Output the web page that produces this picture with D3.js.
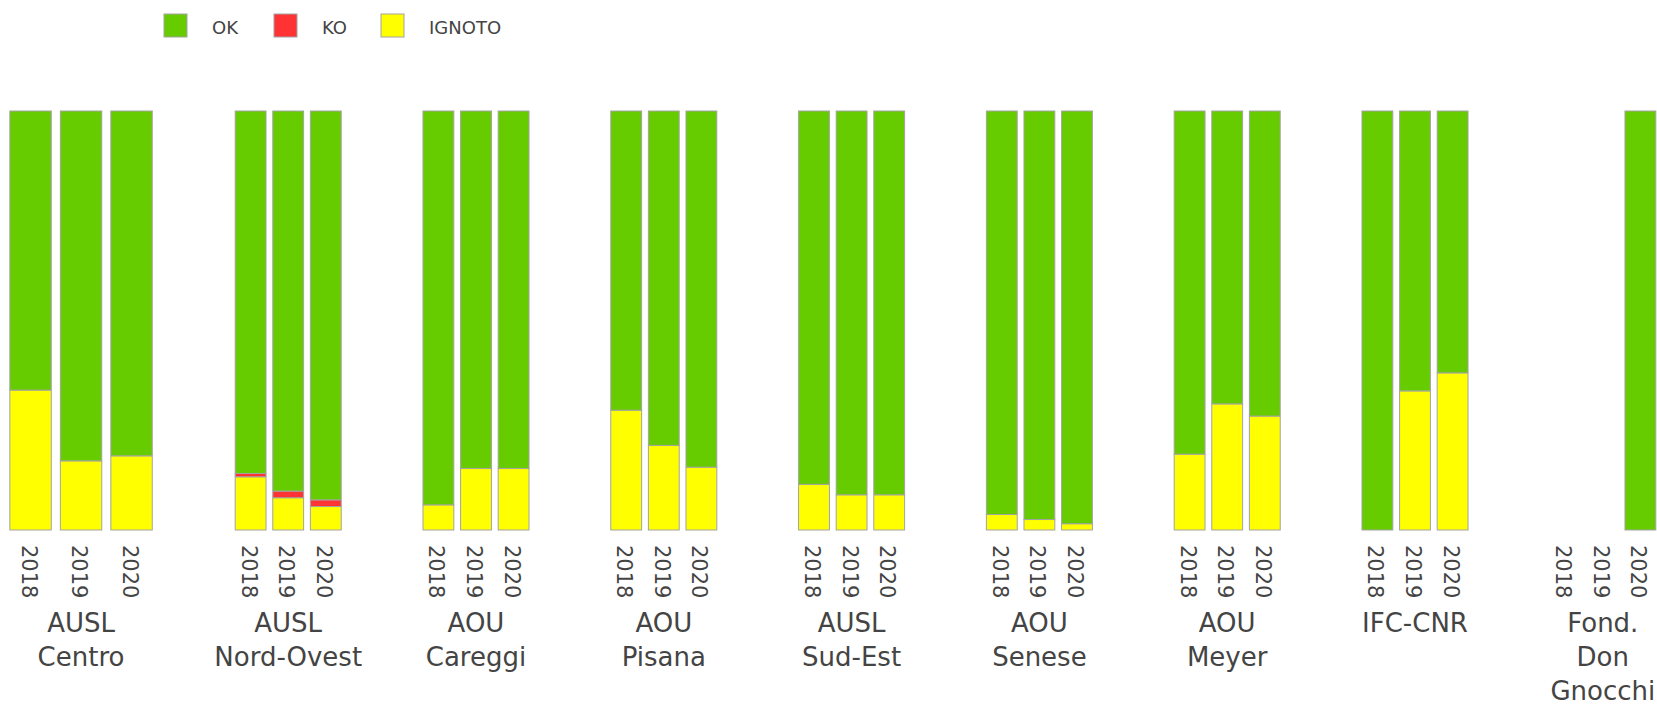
<!DOCTYPE html>
<html>
<head>
<meta charset="utf-8">
<script src="https://cdn.jsdelivr.net/npm/d3@7"></script>
<style>
  html, body { margin: 0; padding: 0; background: #fff; }
  svg { display: block; font-family: "DejaVu Sans", Verdana, sans-serif; }
</style>
</head>
<body>
<svg id="chart" width="1657" height="705"></svg>
<script>
// ---------- DATA ----------
const groups = [
  ["AUSL", "Centro"],
  ["AUSL", "Nord-Ovest"],
  ["AOU", "Careggi"],
  ["AOU", "Pisana"],
  ["AUSL", "Sud-Est"],
  ["AOU", "Senese"],
  ["AOU", "Meyer"],
  ["IFC-CNR"],
  ["Fond.", "Don", "Gnocchi"]
];
const years = ["2018", "2019", "2020"];
const seriesNames = ["OK", "KO", "IGNOTO"];
// percentages per group, per year (null = no data)
const koValues = [
  [0, 0, 0],
  [0.8, 1.6, 1.6],
  [0, 0, 0],
  [0, 0, 0],
  [0, 0, 0],
  [0, 0, 0],
  [0, 0, 0],
  [0, 0, 0],
  [null, null, 0]
];
const ignotoValues = [
  [33.4, 16.5, 17.7],
  [12.7, 7.7, 5.6],
  [6.0, 14.7, 14.7],
  [28.6, 20.2, 15.0],
  [10.9, 8.4, 8.4],
  [3.7, 2.5, 1.5],
  [18.1, 30.1, 27.2],
  [0, 33.2, 37.5],
  [null, null, 0]
];
const okValues = [
  [66.6, 83.5, 82.3],
  [86.5, 90.7, 92.8],
  [94.0, 85.3, 85.3],
  [71.4, 79.8, 85.0],
  [89.1, 91.6, 91.6],
  [96.3, 97.5, 98.5],
  [81.9, 69.9, 72.8],
  [100, 66.8, 62.5],
  [null, null, 100]
];

// ---------- LAYOUT / STYLE ----------
const colors = { OK: "#66cc00", KO: "#ff3333", IGNOTO: "#ffff00" };
const strokeColor = "#a3a3a3";
const textColor = "#444";
const plotTop = 111, plotBottom = 530;
const panelStart = 5.3, panelGap = 75;
const panelWidths = [151.5, 112.8, 112.8, 112.8, 112.8, 112.8, 112.8, 112.8, 112.8];

const svg = d3.select("#chart");
const y = d3.scaleLinear().domain([0, 100]).range([plotBottom, plotTop]);

// panel ranges
let cursor = panelStart;
const panels = panelWidths.map(w => { const r = [cursor, cursor + w]; cursor += w + panelGap; return r; });

groups.forEach((lines, gi) => {
  const x = d3.scaleBand().domain(years).range(panels[gi]).paddingInner(0.18).paddingOuter(0.09);
  const g = svg.append("g");

  years.forEach((yr, yi) => {
    const vals = { IGNOTO: ignotoValues[gi][yi], KO: koValues[gi][yi], OK: okValues[gi][yi] };
    if (vals.OK === null) return;
    let base = 0;
    ["IGNOTO", "KO", "OK"].forEach(s => {
      const v = vals[s];
      if (v > 0) {
        g.append("rect")
          .attr("x", x(yr))
          .attr("width", x.bandwidth())
          .attr("y", y(base + v))
          .attr("height", y(base) - y(base + v))
          .attr("fill", colors[s])
          .attr("stroke", strokeColor)
          .attr("stroke-width", 1);
      }
      base += v;
    });
  });

  // year tick labels (rotated)
  years.forEach(yr => {
    g.append("text")
      .attr("transform", `translate(${x(yr) + x.bandwidth() / 2 - 2},545) rotate(90)`)
      .attr("text-anchor", "start")
      .attr("dominant-baseline", "central")
      .attr("font-size", 21)
      .attr("fill", textColor)
      .text(yr);
  });

  // group label
  const cx = (panels[gi][0] + panels[gi][1]) / 2;
  const t = g.append("text")
    .attr("text-anchor", "middle")
    .attr("font-size", 26)
    .attr("fill", textColor);
  lines.forEach((ln, li) => {
    t.append("tspan").attr("x", cx).attr("y", 632 + li * 34).text(ln);
  });
});

// ---------- LEGEND ----------
const legendX = [164, 274, 381];
const legend = svg.append("g");
seriesNames.forEach((s, i) => {
  legend.append("rect")
    .attr("x", legendX[i]).attr("y", 14)
    .attr("width", 23).attr("height", 23)
    .attr("fill", colors[s])
    .attr("stroke", strokeColor).attr("stroke-width", 1);
  legend.append("text")
    .attr("x", legendX[i] + 48).attr("y", 34)
    .attr("font-size", 18)
    .attr("fill", textColor)
    .text(s);
});
</script>
</body>
</html>
